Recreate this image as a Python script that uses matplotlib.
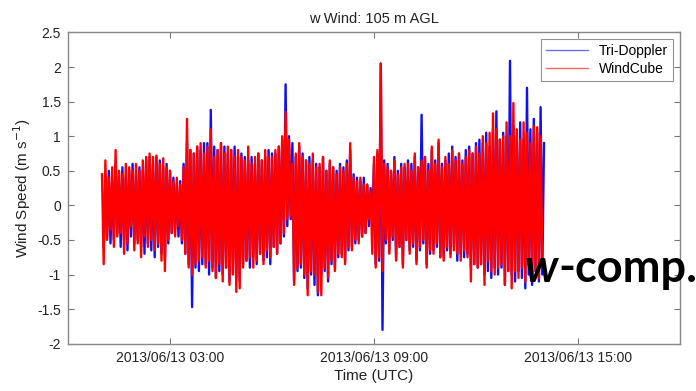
"""w-wind comparison at 105 m AGL: Tri-Doppler vs WindCube."""

from datetime import datetime, timedelta

import matplotlib
matplotlib.use("Agg")
import matplotlib.dates as mdates
import matplotlib.pyplot as plt

# sampling: 3-minute values
tri_start = datetime(2013, 6, 13, 1, 3, 0)
wc_start = datetime(2013, 6, 13, 1, 0, 0)
step = timedelta(minutes=3)

# one row per hour, 01:00 .. 13:57
windcube = [
    0.45, -0.85, 0.65, -0.5, 0.4, -0.35, 0.55, -0.6, 0.8, -0.45, 0.5, -0.4, 0.45, -0.7, 0.6, -0.55, 0.55, -0.3, 0.5, -0.65,
    0.6, -0.55, 0.5, -0.75, 0.65, -0.45, 0.7, -0.6, 0.75, -0.5, 0.7, -0.65, 0.72, -0.55, 0.6, -0.8, 0.68, -0.95, 0.55, -0.5,
    0.5, -0.4, 0.35, -0.45, 0.4, -0.3, 0.3, -0.5, 0.55, -0.7, 1.25, -0.9, 0.8, -1.0, 0.75, -0.85, 0.85, -0.8, 0.9, -0.75,
    0.75, -0.9, 0.85, -0.8, 1.1, -0.95, 0.7, -1.05, 0.8, -0.85, 0.9, -1.1, 0.75, -0.9, 0.85, -1.15, 0.8, -1.0, 0.7, -1.25,
    0.8, -1.2, 0.7, -0.9, 0.65, -0.8, 0.85, -0.75, 0.6, -0.9, 0.7, -0.8, 0.75, -0.7, 0.65, -0.85, 0.8, -0.65, 0.7, -0.75,
    0.7, -0.6, 0.8, -0.7, 0.85, -0.55, 1.0, -0.4, 1.35, -0.2, 0.95, -0.15, 0.6, -1.15, 0.75, -0.9, 0.9, -0.85, 0.7, -1.0,
    0.65, -1.3, 0.6, -0.95, 0.75, -1.0, 0.55, -1.25, 0.6, -1.3, 0.7, -0.9, 0.5, -1.05, 0.65, -0.8, 0.55, -0.95, 0.45, -0.7,
    0.55, -0.75, 0.5, -0.85, 0.6, -0.6, 0.9, -0.65, 0.4, -0.5, 0.35, -0.55, 0.4, -0.45, 0.3, -0.4, 0.3, -0.2, 0.2, -0.7,
    0.7, -0.9, 0.8, -0.75, 2.05, -0.95, 0.6, -0.5, 0.55, -0.7, 0.5, -0.45, 0.65, -0.8, 0.45, -0.6, 0.55, -0.9, 0.6, -0.5,
    0.6, -0.7, 0.5, -0.55, 0.75, -0.85, 0.55, -0.6, 0.65, -0.5, 0.7, -0.9, 0.5, -0.65, 0.85, -0.7, 0.6, -0.55, 0.95, -0.75,
    0.55, -0.8, 0.7, -0.6, 0.6, -0.75, 0.8, -0.65, 0.65, -0.7, 0.75, -0.8, 0.6, -0.65, 0.7, -0.75, 0.8, -1.1, 0.75, -0.85,
    0.85, -0.9, 0.75, -0.85, 1.0, -1.15, 0.9, -0.8, 1.05, -0.95, 1.33, -1.0, 1.1, -0.9, 0.95, -0.85, 1.0, -1.15, 1.2, -0.95,
    1.0, -1.2, 1.48, -0.95, 1.1, -1.05, 0.95, -0.9, 1.2, -1.1, 1.05, -0.85, 0.9, -1.0, 1.15, -0.95, 1.13, -1.05, 1.0, -0.8,
]

# one row per hour, 01:03 .. 14:00
tri_doppler = [
    -0.6, 0.4, -0.45, 0.5, -0.55, 0.35, -0.5, 0.6, -0.4, 0.45, -0.6, 0.55, -0.5, 0.4, -0.65, 0.5, -0.45, 0.6, -0.55, 0.45,
    -0.5, 0.55, -0.6, 0.5, -0.7, 0.65, -0.55, 0.7, -0.65, 0.6, -0.75, 0.7, -0.6, 0.65, -0.7, 0.55, -0.8, 0.6, -0.55, 0.5,
    -0.4, 0.4, -0.35, 0.3, -0.45, 0.35, -0.55, 0.6, -0.7, 0.9, -0.85, 0.8, -1.47, 0.75, -0.9, 0.85, -0.95, 0.8, -0.85, 0.9,
    -0.85, 0.9, -1.0, 1.38, -0.9, 0.85, -1.05, 0.8, -0.95, 0.9, -1.0, 0.85, -0.9, 0.75, -1.1, 0.8, -0.95, 0.85, -1.05, 0.7,
    -1.1, 0.75, -0.85, 0.7, -0.8, 0.65, -0.9, 0.7, -0.75, 0.6, -0.85, 0.75, -0.7, 0.65, -0.8, 0.7, -0.75, 0.8, -0.85, 0.75,
    -0.6, 0.75, -0.7, 0.85, -0.55, 0.95, -0.45, 1.75, -0.3, 1.0, -0.2, 0.9, -1.1, 0.7, -0.95, 0.85, -0.9, 0.75, -1.05, 0.65,
    -1.2, 0.7, -1.0, 0.65, -1.15, 0.6, -1.3, 0.55, -1.0, 0.7, -0.95, 0.5, -1.1, 0.6, -0.85, 0.55, -0.9, 0.5, -0.75, 0.6,
    -0.7, 0.55, -0.8, 0.65, -0.65, 0.8, -0.6, 0.45, -0.55, 0.4, -0.5, 0.35, -0.45, 0.4, -0.4, 0.3, -0.3, 0.25, -0.2, 0.6,
    -0.85, 0.75, -0.8, 2.05, -1.8, 0.65, -0.55, 0.6, -0.65, 0.5, -0.5, 0.7, -0.75, 0.5, -0.6, 0.6, -0.85, 0.55, -0.5, 0.65,
    -0.65, 0.6, -0.6, 0.7, -0.8, 0.55, -0.65, 1.31, -0.55, 0.7, -0.85, 0.6, -0.7, 0.8, -0.65, 0.65, -0.6, 0.9, -0.75, 0.6,
    -0.75, 0.65, -0.65, 0.75, -0.7, 0.85, -0.6, 0.7, -0.8, 0.75, -0.7, 0.65, -0.75, 0.8, -0.7, 0.85, -0.9, 0.75, -0.85, 0.9,
    -0.9, 0.95, -0.85, 0.9, -1.0, 1.05, -0.95, 0.85, -1.05, 1.1, -0.9, 1.36, -1.0, 0.95, -0.9, 1.05, -1.15, 1.0, -0.95, 2.09,
    -1.0, 1.15, -1.1, 1.0, -0.95, 1.2, -1.05, 0.95, -1.2, 1.7, -1.0, 1.1, -1.15, 1.25, -0.95, 1.05, -1.1, 1.42, -1.0, 0.9,
]

x_ticks = [datetime(2013, 6, 13, 3), datetime(2013, 6, 13, 9), datetime(2013, 6, 13, 15)]
x_range = (datetime(2013, 6, 13, 0), datetime(2013, 6, 13, 18))
y_ticks = [-2, -1.5, -1, -0.5, 0, 0.5, 1, 1.5, 2, 2.5]

plt.rcParams["font.family"] = ["Liberation Sans", "DejaVu Sans"]

t_tri = [tri_start + i * step for i in range(len(tri_doppler))]
t_wc = [wc_start + i * step for i in range(len(windcube))]

fig = plt.figure(figsize=(6.96, 3.91), dpi=100)
ax = fig.add_axes([0.0977, 0.121, 0.8793, 0.796])

ax.plot(t_tri, tri_doppler, color="#1010f0", lw=1.7, label="Tri-Doppler")
ax.plot(t_wc, windcube, color="#ff0000", lw=1.7, label="WindCube")

ax.set_xlim(*x_range)
ax.set_ylim(-2, 2.5)
ax.set_xticks(x_ticks)
ax.xaxis.set_major_formatter(mdates.DateFormatter("%Y/%m/%d %H:%M"))
ax.set_yticks(y_ticks)
ax.set_yticklabels([f"{v:g}" for v in y_ticks])
ax.tick_params(direction="in", length=4, width=0.8, color="#777777", pad=5,
               top=True, right=True, labelsize=10, labelcolor="#222222")
for sp in ax.spines.values():
    sp.set_color("#888888")
    sp.set_linewidth(1.0)

ax.set_title("w Wind: 105 m AGL", fontsize=10.5, color="#222222", pad=7)
ax.set_xlabel("Time (UTC)", fontsize=11, color="#222222", labelpad=3)
ax.set_ylabel(r"Wind Speed (m s$^{-1}$)", fontsize=11, color="#222222", labelpad=3)

leg = ax.legend(loc="upper right", fontsize=10, fancybox=False, handlelength=3.0,
                borderaxespad=0.5, labelspacing=0.25, borderpad=0.35)
leg.get_frame().set_edgecolor("#777777")
leg.get_frame().set_linewidth(0.8)
for ln in leg.get_lines():
    ln.set_linewidth(1.0)
    ln.set_alpha(0.6)

# panel tag
t1 = fig.text(0.754, 0.279, "w", fontsize=32.5, fontweight="bold", fontstyle="italic",
              family=["Lato", "DejaVu Sans"], va="baseline", ha="left")
fig.canvas.draw()
bb = t1.get_window_extent()
fig.text(bb.x1 / fig.bbox.width, 0.279, "-comp.", fontsize=32.5, fontweight="bold",
         family=["Lato", "DejaVu Sans"], va="baseline", ha="left")

fig.savefig("out.png", dpi=100)
